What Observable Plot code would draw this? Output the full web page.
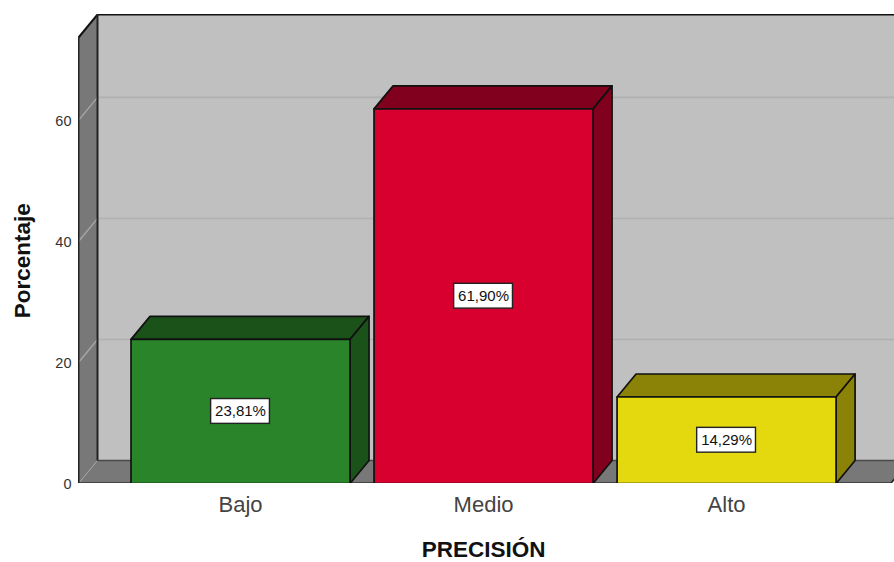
<!DOCTYPE html>
<html>
<head>
<meta charset="utf-8">
<style>
  html, body { margin: 0; padding: 0; background: #fff; }
  svg { display: block; }
</style>
<script src="https://cdn.jsdelivr.net/npm/d3@7"></script>
<script src="https://cdn.jsdelivr.net/npm/@observablehq/plot@0.6"></script>
</head>
<body>
<script>
const categories = ["Bajo", "Medio", "Alto"];
const percentages = [23.81, 61.90, 14.29];
const frontColors = ["#2a852a", "#d7002f", "#e3d90e"];
const shadeColors = ["#1a5219", "#80001e", "#8b8307"];
const yTicks = [0, 20, 40, 60];

// Scale extents and the oblique offset of the 3D box, all in data units.
const xMin = -0.6667, xMax = 2.691, yMax = 77.5;
const floorEnd = 2.675;
const depthX = 19 / 243, depthY = 23 / 6.05;
const halfBar = 0.4506;
const wallTop = yMax - depthY;
const labelHalfW = 0.121, labelHalfH = 2.05;

const rows = categories.map((name, i) => ({name, i, value: percentages[i]}));
const fmt = v => v.toFixed(2).replace(".", ",") + "%";

// Closed outline from [x, y] corners, usable by a filled line mark.
const face = pts => [...pts, pts[0]].map(([x, y]) => ({x, y}));
const polygon = (pts, fill, stroke = "#111", strokeWidth = 1.7) =>
  Plot.line(face(pts), {x: "x", y: "y", fill, stroke, strokeWidth, strokeLinejoin: "round", clip: true});
const edge = (x1, y1, x2, y2, stroke, strokeWidth) =>
  Plot.link([{x1, y1, x2, y2}], {x1: "x1", y1: "y1", x2: "x2", y2: "y2", stroke, strokeWidth, clip: true});

const backWall = polygon([[xMin + depthX, depthY], [xMin + depthX, yMax], [xMax + 1, yMax], [xMax + 1, depthY]], "#c0c0c0", "none");
const leftWall = polygon([[xMin, 0], [xMin + depthX, depthY], [xMin + depthX, yMax], [xMin, wallTop]], "#787878", "none");
const floor = polygon([[xMin, 0], [xMin + depthX, depthY], [floorEnd + depthX, depthY], [floorEnd, 0]], "#787878", "none");

// Gridlines run up the side wall, then across the back wall.
const gridRows = yTicks.slice(1).flatMap(t => [
  {x: xMin + depthX, y: t + depthY, t}, {x: xMax, y: t + depthY, t}
]);
const wallGrid = yTicks.slice(1).map(t => ({x1: xMin, y1: t, x2: xMin + depthX, y2: t + depthY}));

const barFaces = rows.flatMap(({i, value}) => {
  const l = i - halfBar, r = i + halfBar;
  return [
    polygon([[l, value], [l + depthX, value + depthY], [r + depthX, value + depthY], [r, value]], shadeColors[i]),
    polygon([[r, 0], [r + depthX, depthY], [r + depthX, value + depthY], [r, value]], shadeColors[i]),
    polygon([[l, 0], [l, value], [r, value], [r, 0]], frontColors[i])
  ];
});

const chart = Plot.plot({
  width: 894,
  height: 562,
  marginLeft: 78,
  marginRight: 0,
  marginTop: 14,
  marginBottom: 79,
  style: {fontFamily: "'Liberation Sans', Arial, sans-serif", background: "#fff", overflow: "visible"},
  x: {type: "linear", domain: [xMin, xMax]},
  y: {domain: [0, yMax]},
  marks: [
    backWall,
    leftWall,
    floor,
    Plot.line(gridRows, {x: "x", y: "y", z: "t", stroke: "#b0b0b0", strokeWidth: 1.6}),
    Plot.link(wallGrid, {x1: "x1", y1: "y1", x2: "x2", y2: "y2", stroke: "#a6a6a6", strokeWidth: 1.4}),
    edge(xMin, 0, xMin + depthX, depthY, "#a0a0a0", 1),
    edge(xMin + depthX, depthY, xMax, depthY, "#4a4a4a", 1.4),
    edge(floorEnd, 0, floorEnd + depthX, depthY, "#222", 1.6),
    edge(xMin, 0, floorEnd, 0, "#111", 2),
    edge(xMin, 0, xMin, wallTop, "#222", 2),
    edge(xMin, wallTop, xMin + depthX, yMax, "#111", 2),
    edge(xMin + depthX, depthY, xMin + depthX, yMax, "#222", 2),
    edge(xMin + depthX, yMax, xMax, yMax, "#111", 2),
    ...barFaces,
    Plot.rect(rows, {
      x1: d => d.i - labelHalfW, x2: d => d.i + labelHalfW,
      y1: d => d.value / 2 - labelHalfH, y2: d => d.value / 2 + labelHalfH,
      fill: "#fff", stroke: "#222", strokeWidth: 1.4
    }),
    Plot.text(rows, {
      x: "i", y: d => d.value / 2, text: d => fmt(d.value),
      fontSize: 15, fill: "#111"
    }),
    Plot.axisY(yTicks, {
      tickSize: 0, tickPadding: 7, label: null, dy: 1,
      tickFormat: d => d, fontSize: 14.5, fill: "#333"
    }),
    Plot.axisX([0, 1, 2], {
      tickSize: 0, tickPadding: 13, label: null,
      tickFormat: i => categories[i], fontSize: 22, fill: "#444"
    }),
    Plot.text(["PRECISIÓN"], {
      x: [1], y: [0], dy: 66.5, text: d => d,
      fontSize: 22.5, fontWeight: "bold", fill: "#111"
    }),
    Plot.text(["Porcentaje"], {
      y: [36.8], frameAnchor: "left", textAnchor: "middle", dx: -56, rotate: -90, text: d => d,
      fontSize: 22.5, fontWeight: "bold", fill: "#111"
    })
  ]
});
document.body.appendChild(chart);
</script>
</body>
</html>
